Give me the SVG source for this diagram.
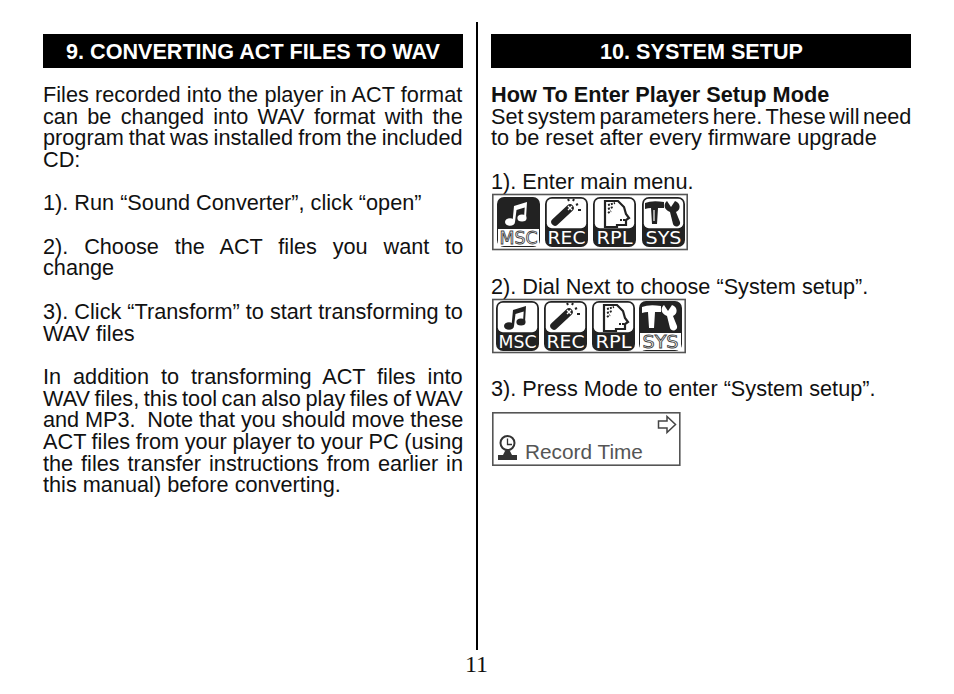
<svg xmlns="http://www.w3.org/2000/svg" width="954" height="694" viewBox="0 0 954 694">
<style>
.t{font-family:"Liberation Sans",Arial,sans-serif;font-size:21.7px;fill:#111}
.b{font-weight:bold}
.h{font-family:"Liberation Sans",Arial,sans-serif;font-size:21.6px;font-weight:bold;fill:#fff;text-anchor:middle}
.bar{fill:#000}
.frame{fill:#fff;stroke:#555;stroke-width:1.6}
.lab{font-family:"DejaVu Sans",sans-serif;font-size:18px;text-anchor:middle;fill:#fff}
.labA{font-family:"DejaVu Sans",sans-serif;font-size:18px;text-anchor:middle;fill:#fff;stroke:#444;stroke-width:.9}
.dark{fill:#222}
.white{fill:#fff}
</style>
<defs>
<g id="note"><ellipse cx="13" cy="25" rx="5" ry="3.8"/><ellipse cx="25" cy="21" rx="4.6" ry="3.5"/><path d="M15.5 25 L17 9 L30 5 L29 21 L27 21 L27.7 10.5 L19.5 13 L18 25Z"/></g>
<g id="mic"><path d="M10 25 L25 11" stroke-width="7.5" stroke-linecap="round" fill="none"/><path d="M23 9 L27 13 M27 9 L23 13" stroke="#fff" stroke-width="1.4" fill="none"/><path d="M31 8 L33 7 M33 13 L36 13 M28 4 L29 2 M24 4 L23 2" stroke-width="2" fill="none"/></g>
<g id="head"><path d="M12 4 H25 L31 10 L33 17 L36 21 L33 23 L33 28 H24 V30 H12Z" fill="#fff" stroke-width="2.2"/><path d="M15 8 L22 6 M15 12 L20 10 M15 16 L18 14 M27 23 H32" stroke-width="2" fill="none" stroke-dasharray="2 1"/></g>
<g id="tools"><path d="M3 6 Q10 3 22 5 V11 H16 L15 27 H10 L9 11 Q6 11 3 12Z" stroke="none"/><path d="M25 4 L29 10 L33 4 C39 6 39 13 34 15 L38 25 C39 30 32 31 31 27 L28 15 C22 13 21 7 25 4Z" stroke="none"/><path d="M12 13 V24" stroke="#fff" stroke-width="1.2" fill="none"/></g>
<g id="tile"><rect width="43" height="50" rx="7" class="dark"/><rect x="1.8" y="1.8" width="39.4" height="29.5" rx="5" class="white"/></g>
<g id="tileA"><rect width="43" height="50" rx="7" class="dark"/><rect x="1" y="32" width="41" height="17" class="white"/></g>
</defs>
<g id="divider"><rect x="476" y="22" width="2" height="628" fill="#000"/></g>
<g id="left-column">
<rect class="bar" x="43" y="34" width="420" height="34"/>
<text class="h" x="253" y="58.5">9. CONVERTING ACT FILES TO WAV</text>
<text class="t" x="43" y="102" word-spacing=".2">Files recorded into the player in ACT format</text>
<text class="t" x="43" y="124" word-spacing="3.3">can be changed into WAV format with the</text>
<text class="t" x="43" y="145" word-spacing="-1">program that was installed from the included</text>
<text class="t" x="43" y="167">CD:</text>
<text class="t" x="43" y="210">1). Run “Sound Converter”, click “open”</text>
<text class="t" x="43" y="254" word-spacing="9.8">2). Choose the ACT files you want to</text>
<text class="t" x="43" y="275">change</text>
<text class="t" x="43" y="319" word-spacing="0">3). Click “Transform” to start transforming to</text>
<text class="t" x="43" y="341">WAV files</text>
<text class="t" x="43" y="384" word-spacing="5.9">In addition to transforming ACT files into</text>
<text class="t" x="43" y="406" word-spacing="-1.45">WAV files, this tool can also play files of WAV</text>
<text class="t" x="43" y="427" word-spacing="-.2">and MP3.&#160; Note that you should move these</text>
<text class="t" x="43" y="449" word-spacing="-.45">ACT files from your player to your PC (using</text>
<text class="t" x="43" y="471" word-spacing="1.9">the files transfer instructions from earlier in</text>
<text class="t" x="43" y="492">this manual) before converting.</text>
</g>
<g id="right-column">
<rect class="bar" x="491" y="34" width="420" height="34"/>
<text class="h" x="701.5" y="58.5">10. SYSTEM SETUP</text>
<text class="t b" x="491" y="102">How To Enter Player Setup Mode</text>
<text class="t" x="491" y="124" word-spacing="-2.4">Set system parameters here. These will need</text>
<text class="t" x="491" y="145">to be reset after every firmware upgrade</text>
<text class="t" x="491" y="189">1). Enter main menu.</text>
<text class="t" x="491" y="294">2). Dial Next to choose “System setup”.</text>
<text class="t" x="491" y="396">3). Press Mode to enter “System setup”.</text>
</g>
<g id="menu-1">
<rect class="frame" x="492.8" y="194.5" width="194.4" height="55"/>
<g transform="translate(497 197)"><use href="#tileA"/><use href="#note" fill="#fff"/><text class="labA" x="21.5" y="47" textLength="38" lengthAdjust="spacingAndGlyphs">MSC</text></g>
<g transform="translate(545 197)"><use href="#tile"/><use href="#mic" fill="#222" stroke="#222"/><text class="lab" x="21.5" y="47" textLength="38" lengthAdjust="spacingAndGlyphs">REC</text></g>
<g transform="translate(593 197)"><use href="#tile"/><use href="#head" fill="#222" stroke="#222"/><text class="lab" x="21.5" y="47" textLength="36" lengthAdjust="spacingAndGlyphs">RPL</text></g>
<g transform="translate(642 197)"><use href="#tile"/><use href="#tools" fill="#222"/><text class="lab" x="21.5" y="47" textLength="36" lengthAdjust="spacingAndGlyphs">SYS</text></g>
</g>
<g id="menu-2">
<rect class="frame" x="492.8" y="299.5" width="192.4" height="53"/>
<g transform="translate(496 301)"><use href="#tile"/><use href="#note" fill="#222"/><text class="lab" x="21.5" y="47" textLength="38" lengthAdjust="spacingAndGlyphs">MSC</text></g>
<g transform="translate(544 301)"><use href="#tile"/><use href="#mic" fill="#222" stroke="#222"/><text class="lab" x="21.5" y="47" textLength="38" lengthAdjust="spacingAndGlyphs">REC</text></g>
<g transform="translate(592 301)"><use href="#tile"/><use href="#head" fill="#222" stroke="#222"/><text class="lab" x="21.5" y="47" textLength="36" lengthAdjust="spacingAndGlyphs">RPL</text></g>
<g transform="translate(639 301)"><use href="#tileA"/><use href="#tools" fill="#fff"/><text class="labA" x="21.5" y="47" textLength="36" lengthAdjust="spacingAndGlyphs">SYS</text></g>
</g>
<g id="screen">
<rect class="frame" x="492.8" y="412.8" width="187" height="52.4"/>
<path d="M658.5 421 H667 V416.5 L675.5 424.5 L667 432.5 V428 H658.5Z" fill="#fff" stroke="#444" stroke-width="1.5"/>
<circle cx="507.5" cy="443" r="7" fill="#fff" stroke="#333" stroke-width="2"/>
<path d="M507.5 438.5 V444.5 H512" fill="none" stroke="#333" stroke-width="1.3"/>
<path d="M505.5 450 H509.5 L512 455 H517 V460 H498 V455 H503Z" fill="#333"/>
<text x="525" y="459" font-family="'Liberation Sans',Arial,sans-serif" font-size="20.8" fill="#555">Record Time</text>
</g>
<text id="page-number" x="476.5" y="672" text-anchor="middle" font-family="'Liberation Serif','Times New Roman',serif" font-size="24" fill="#111">11</text>
</svg>
